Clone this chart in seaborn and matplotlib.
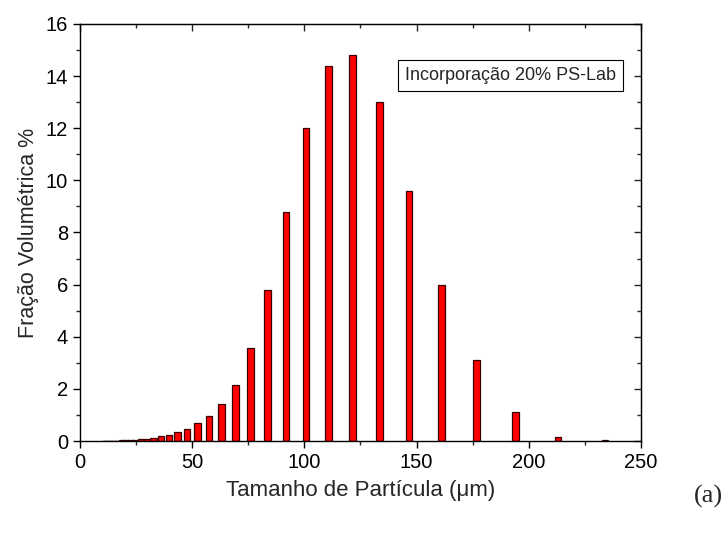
import numpy as np
import pandas as pd
import seaborn as sns
import matplotlib.pyplot as plt
from matplotlib.ticker import MultipleLocator

# particle size bin centres (um) and volume fraction (%)
sizes = [10.7, 11.7, 12.9, 14.1, 15.5, 17.0, 18.7, 20.6, 22.6, 24.8,
         27.2, 29.9, 32.8, 36.0, 39.6, 43.5, 47.7, 52.4, 57.5, 63.1,
         69.3, 76.1, 83.6, 91.8, 100.8, 110.7, 121.5, 133.5, 146.6, 161.0,
         176.7, 194.0, 213.0, 234.0]
fractions = [0.002, 0.003, 0.005, 0.007, 0.01, 0.015, 0.02, 0.025, 0.035, 0.05,
             0.07, 0.095, 0.13, 0.18, 0.24, 0.33, 0.47, 0.68, 0.97, 1.41,
             2.16, 3.57, 5.8, 8.8, 12.0, 14.4, 14.8, 13.0, 9.6, 6.0,
             3.1, 1.1, 0.17, 0.02]

df = pd.DataFrame({'Tamanho': sizes, 'Fracao': fractions})

sns.set_style('ticks')
plt.rcParams['font.family'] = ['Liberation Sans', 'DejaVu Sans']

fig = plt.figure(figsize=(7.27, 5.33), dpi=100)
ax = fig.add_axes([0.110, 0.1726, 0.7717, 0.7824])

# bar width ~2.9 um; seaborn scales width by the smallest gap between bins
min_gap = np.min(np.diff(sizes))
sns.barplot(data=df, x='Tamanho', y='Fracao', native_scale=True,
            width=2.9 / min_gap, color='#ff0000', saturation=1,
            edgecolor='#3a0000', linewidth=0.9, errorbar=None, ax=ax)

ax.set_xlim(0, 250)
ax.set_ylim(0, 16)
ax.xaxis.set_major_locator(MultipleLocator(50))
ax.xaxis.set_minor_locator(MultipleLocator(25))
ax.yaxis.set_major_locator(MultipleLocator(2))
ax.yaxis.set_minor_locator(MultipleLocator(1))

for s in ax.spines.values():
    s.set_visible(True)
    s.set_linewidth(1.0)
    s.set_color('black')

ax.tick_params(axis='both', which='major', direction='out', length=5, width=1,
               labelsize=14.5, colors='black')
ax.tick_params(axis='both', which='minor', direction='out', length=3, width=1)

# mirrored ticks pointing inward on top and right
axt = ax.secondary_xaxis('top')
axt.xaxis.set_major_locator(MultipleLocator(50))
axt.xaxis.set_minor_locator(MultipleLocator(25))
axt.tick_params(which='major', direction='in', length=5, width=1, labeltop=False)
axt.tick_params(which='minor', direction='in', length=3, width=1)
axr = ax.secondary_yaxis('right')
axr.yaxis.set_major_locator(MultipleLocator(2))
axr.yaxis.set_minor_locator(MultipleLocator(1))
axr.tick_params(which='major', direction='in', length=5, width=1, labelright=False)
axr.tick_params(which='minor', direction='in', length=3, width=1)

ax.set_xlabel('Tamanho de Partícula (μm)', fontsize=16, labelpad=6)
ax.set_ylabel('Fração Volumétrica %', fontsize=15.5, labelpad=5)

ax.text(0.955, 0.876, 'Incorporação 20% PS-Lab', transform=ax.transAxes,
        ha='right', va='center', fontsize=13,
        bbox=dict(boxstyle='square,pad=0.4', facecolor='white',
                  edgecolor='black', linewidth=0.8))

fig.text(0.974, 0.068, '(a)', ha='center', va='center', fontsize=19,
         family='Liberation Serif')

fig.savefig('out.png', dpi=100)
